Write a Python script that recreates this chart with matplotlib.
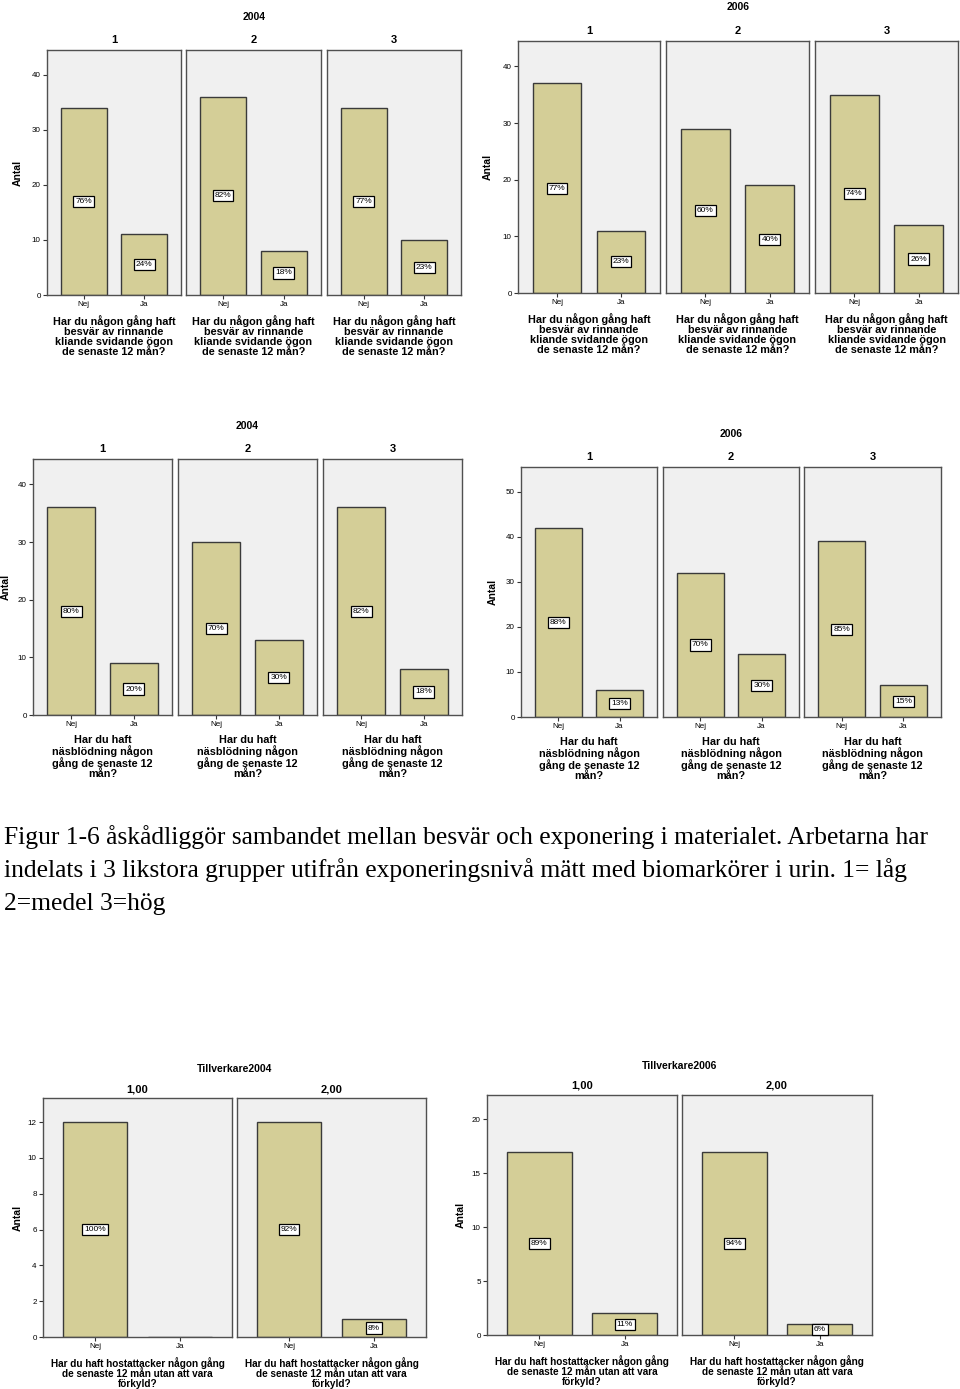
import matplotlib
matplotlib.use("Agg")
import matplotlib.pyplot as plt

plt.rcParams['font.family'] = ['Liberation Sans', 'DejaVu Sans']

W, H = 960, 1389

categories = ["Nej", "Ja"]

# ögon, 2004 och 2006 (grupp 1, 2, 3)
eyes_2004_nej = [34, 36, 34]
eyes_2004_ja = [11, 8, 10]
eyes_2004_pct_nej = ["76%", "82%", "77%"]
eyes_2004_pct_ja = ["24%", "18%", "23%"]

eyes_2006_nej = [37, 29, 35]
eyes_2006_ja = [11, 19, 12]
eyes_2006_pct_nej = ["77%", "60%", "74%"]
eyes_2006_pct_ja = ["23%", "40%", "26%"]

# näsblödning
nose_2004_nej = [36, 30, 36]
nose_2004_ja = [9, 13, 8]
nose_2004_pct_nej = ["80%", "70%", "82%"]
nose_2004_pct_ja = ["20%", "30%", "18%"]

nose_2006_nej = [42, 32, 39]
nose_2006_ja = [6, 14, 7]
nose_2006_pct_nej = ["88%", "70%", "85%"]
nose_2006_pct_ja = ["13%", "30%", "15%"]

# hostattacker, tillverkare
cough_2004_nej = [12, 12]
cough_2004_ja = [0, 1]
cough_2004_pct_nej = ["100%", "92%"]
cough_2004_pct_ja = ["", "8%"]

cough_2006_nej = [17, 17]
cough_2006_ja = [2, 1]
cough_2006_pct_nej = ["89%", "94%"]
cough_2006_pct_ja = ["11%", "6%"]

groups_3 = ["1", "2", "3"]
groups_2 = ["1,00", "2,00"]

eyes_q = "Har du någon gång haft\nbesvär av rinnande\nkliande svidande ögon\nde senaste 12 mån?"
nose_q = "Har du haft\nnäsblödning någon\ngång de senaste 12\nmån?"
cough_q = "Har du haft hostattacker någon gång\nde senaste 12 mån utan att vara\nförkyld?"

caption = ["Figur 1-6 åskådliggör sambandet mellan besvär och exponering i materialet. Arbetarna har",
           "indelats i 3 likstora grupper utifrån exponeringsnivå mätt med biomarkörer i urin. 1= låg",
           "2=medel 3=hög"]

bar_color = "#D4CE97"
bg_color = "#F0F0F0"

fig = plt.figure(figsize=(W / 100, H / 100), dpi=100)


def draw_group(panels, ytop, ybot, ymax, yticks, title, title_y, ptitle_y, ylab_x,
               nej, ja, pct_nej, pct_ja, names, question, qsize=7.8):
    for i, (x0, x1) in enumerate(panels):
        ax = fig.add_axes([x0 / W, 1 - ybot / H, (x1 - x0) / W, (ybot - ytop) / H])
        ax.set_facecolor(bg_color)
        vals = [nej[i], ja[i]]
        labs = [pct_nej[i], pct_ja[i]]
        ax.bar([0, 1], vals, width=0.76, color=bar_color, edgecolor="#3a3a3a", linewidth=1.0)
        for k in range(2):
            if labs[k]:
                ax.text(k, vals[k] / 2, labs[k], ha="center", va="center", fontsize=6,
                        bbox=dict(boxstyle="square,pad=0.25", fc="white", ec="black", lw=0.9))
        ax.set_xlim(-0.61, 1.61)
        ax.set_ylim(0, ymax)
        ax.set_xticks([0, 1])
        ax.set_xticklabels(categories, fontsize=5.8)
        ax.tick_params(axis="x", length=3, pad=1.5, color="#333333")
        if i == 0:
            ax.set_yticks(yticks)
            ax.set_yticklabels([str(t) for t in yticks], fontsize=5.8)
            ax.tick_params(axis="y", length=3, pad=1.5, color="#333333")
        else:
            ax.set_yticks([])
        for s in ax.spines.values():
            s.set_color("#505050")
            s.set_linewidth(1.0)
        ax.set_xlabel(question, fontsize=qsize, fontweight="bold", labelpad=5, linespacing=1.0)
        fig.text((x0 + x1) / 2 / W, 1 - ptitle_y / H, names[i], ha="center", va="center",
                 fontsize=8, fontweight="bold")
    cx = (panels[0][0] + panels[-1][1]) / 2
    fig.text(cx / W, 1 - title_y / H, title, ha="center", va="center", fontsize=7.5,
             fontweight="bold")
    fig.text(ylab_x / W, 1 - (ytop + ybot) / 2 / H, "Antal", rotation=90, ha="center",
             va="center", fontsize=7.5, fontweight="bold")


draw_group([(47, 181), (186, 321), (327, 461)], 50, 295, 44.5, [0, 10, 20, 30, 40],
           "2004", 17, 40, 18, eyes_2004_nej, eyes_2004_ja, eyes_2004_pct_nej,
           eyes_2004_pct_ja, groups_3, eyes_q)
draw_group([(518, 660), (666, 809), (815, 958)], 41, 293, 44.5, [0, 10, 20, 30, 40],
           "2006", 7, 31, 488, eyes_2006_nej, eyes_2006_ja, eyes_2006_pct_nej,
           eyes_2006_pct_ja, groups_3, eyes_q)
draw_group([(33, 172), (178, 317), (323, 462)], 459, 715, 44.4, [0, 10, 20, 30, 40],
           "2004", 426, 449, 6, nose_2004_nej, nose_2004_ja, nose_2004_pct_nej,
           nose_2004_pct_ja, groups_3, nose_q)
draw_group([(521, 657), (663, 799), (804, 941)], 467, 717, 55.5, [0, 10, 20, 30, 40, 50],
           "2006", 434, 457, 493, nose_2006_nej, nose_2006_ja, nose_2006_pct_nej,
           nose_2006_pct_ja, groups_3, nose_q)
draw_group([(43, 232), (237, 426)], 1098, 1337, 13.35, [0, 2, 4, 6, 8, 10, 12],
           "Tillverkare2004", 1069, 1089, 18, cough_2004_nej, cough_2004_ja,
           cough_2004_pct_nej, cough_2004_pct_ja, groups_2, cough_q, qsize=7.2)
draw_group([(487, 677), (682, 872)], 1095, 1335, 22.25, [0, 5, 10, 15, 20],
           "Tillverkare2006", 1066, 1086, 461, cough_2006_nej, cough_2006_ja,
           cough_2006_pct_nej, cough_2006_pct_ja, groups_2, cough_q, qsize=7.2)

for j, line in enumerate(caption):
    fig.text(4 / W, 1 - (844 + 33 * j) / H, line, ha="left", va="baseline",
             fontsize=18.4, family="Liberation Serif")

fig.savefig("out.png", dpi=100)
